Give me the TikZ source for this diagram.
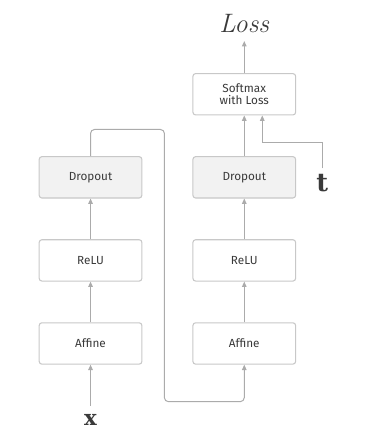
\documentclass[tikz,border=0pt]{standalone}
\usepackage{fontspec}
\setsansfont{Fira Sans}
\newfontfamily\symbolserif{DejaVu Serif}
\usetikzlibrary{arrows.meta, positioning}
\definecolor{linegray}{HTML}{ABABAB}
\definecolor{boxgray}{HTML}{C8C8C8}
\definecolor{dropfill}{HTML}{F2F2F2}
\definecolor{textgray}{HTML}{3A3A3A}
\tikzset{
  layer/.style={rectangle, rounded corners=2pt, minimum width=77pt, minimum height=31pt, align=center, draw=boxgray, line width=0.8pt, fill=white, text=textgray, font=\sffamily\fontsize{8.8}{9.2}\selectfont},
  droplayer/.style={layer, fill=dropfill},
  label/.style={text=textgray, inner sep=2pt},
  arrow/.style={draw=linegray, line width=0.75pt, -{Triangle[length=4pt, width=3.4pt]}}
}
\begin{document}
\begin{tikzpicture}[node distance=30.5pt and 37.5pt]
  \useasboundingbox (0,0) rectangle (291pt,-328.5pt);

  \node (affineA) [layer] at (67.9pt,-257.6pt) {Affine};
  \node (reluA) [layer, above=of affineA] {ReLU};
  \node (dropA) [droplayer, above=of reluA] {Dropout};
  \node (affineB) [layer, right=of affineA] {Affine};
  \node (reluB) [layer, above=of affineB] {ReLU};
  \node (dropB) [droplayer, above=of reluB] {Dropout};
  \node (softmax) [layer, above=of dropB] {Softmax\\with Loss};
  \node (loss) [label, above=28pt of softmax, font=\fontsize{20}{20}\selectfont\itshape] {Loss};
  \node (x) [label, below=35pt of affineA, font=\symbolserif\fontsize{16}{16}\selectfont\bfseries] {x};
  \node (t) [label, right=13pt of dropB, yshift=-4pt, font=\symbolserif\fontsize{19}{19}\selectfont\bfseries] {t};
  \coordinate (turn) at ([xshift=16.5pt, yshift=-27.75pt]affineA.south east);

  \draw [arrow, shorten <=4pt] (x) -- (affineA);
  \draw [arrow] (affineA) -- (reluA);
  \draw [arrow] (reluA) -- (dropA);
  \draw [arrow, rounded corners=3pt] (dropA.north) -- ++(0,20pt) -| (turn) -| (affineB.south);
  \draw [arrow] (affineB) -- (reluB);
  \draw [arrow] (reluB) -- (dropB);
  \draw [arrow] (dropB) -- (softmax);
  \draw [arrow, shorten <=2pt] (t.north) |- ([xshift=13.5pt, yshift=-20pt]softmax.south) -- ([xshift=13.5pt]softmax.south);
  \draw [arrow, shorten >=4pt] (softmax) -- (loss);

\end{tikzpicture}
\end{document}
